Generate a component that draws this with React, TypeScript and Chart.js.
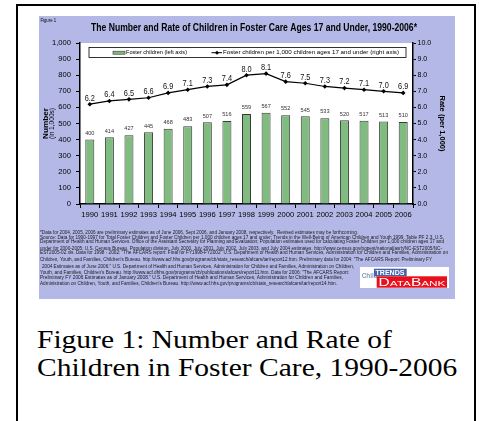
import React, { useEffect, useRef } from "react";
import { Chart, registerables } from "chart.js";

Chart.register(...registerables);

// ---------- data ----------
const YEARS = ["1990", "1991", "1992", "1993", "1994", "1995", "1996", "1997", "1998", "1999", "2000", "2001", "2002", "2003", "2004", "2005", "2006"];
const FOSTER_CHILDREN_THOUSANDS = [400, 414, 427, 445, 468, 483, 507, 516, 559, 567, 552, 545, 533, 520, 517, 513, 510];
const RATE_PER_1000 = [6.2, 6.4, 6.5, 6.6, 6.9, 7.1, 7.3, 7.4, 8.0, 8.1, 7.6, 7.5, 7.3, 7.2, 7.1, 7.0, 6.9];
const LEFT_AXIS_MAX = 1000;
const LEFT_AXIS_STEP = 100;
const RIGHT_AXIS_MAX = 10;
const RIGHT_AXIS_STEP = 1;

const FIGURE_TAG = "Figure 1";
const TITLE = "The Number and Rate of Children in Foster Care Ages 17 and Under, 1990-2006*";
const BAR_LABEL = "Foster children (left axis)";
const LINE_LABEL = "Foster children per 1,000 children ages 17 and under (right axis)";
const LEFT_TITLE = "Number";
const LEFT_SUBTITLE = "(in 1,000s)";
const RIGHT_TITLE = "Rate (per 1,000)";
const CAPTION_LINES = ["Figure 1: Number and Rate of", "Children in Foster Care, 1990-2006"];
const FOOTNOTE_LINES = [
  "*Data for 2004, 2005, 2006 are preliminary estimates as of June 2006, Sept 2006, and January 2008, respectively.  Revised estimates may be forthcoming.",
  "Source: Data for 1990-1997 for Total Foster Children and Foster Children per 1,000 children ages 17 and under: Trends in the Well-Being of American Children and Youth 1999. Table PF 2.3. U.S.",
  "Department of Health and Human Services. Office of the Assistant Secretary for Planning and Evaluation; Population estimates used for calculating Foster Children per 1,000 children ages 17 and",
  "under for 2000-2005: U.S. Census Bureau, Population division, July 2000, July 2001, July 2002, July 2003, and July 2004 estimates. http://www.census.gov/popest/national/asrh/NC-EST2005/NC-",
  "EST2005-02.xls. Data for 1998 - 2002: \"The AFCARS report: Final for FY1998-FY2002\" U.S. Department of Health and Human Services, Administration for Children and Families, Administration on",
  "Children, Youth, and Families, Children's Bureau. http://www.acf.hhs.gov/programs/cb/stats_research/afcars/tar/report12.htm. Preliminary data for 2004: \"The AFCARS Report: Preliminary FY",
  "2004 Estimates as of June 2006.\" U.S. Department of Health and Human Services, Administration for Children and Families, Administration on Children,",
  "Youth, and Families, Children's Bureau. http://www.acf.dhhs.gov/programs/cb/publications/afcars/report11.htm. Data for 2006: \"The AFCARS Report:",
  "Preliminary FY 2006 Estimates as of January 2008.\" U.S. Department of Health and Human Services, Administration for Children and Families,",
  "Administration on Children, Youth, and Families, Children's Bureau. http://www.acf.hhs.gov/programs/cb/stats_research/afcars/tar/report14.htm.",
];

// ---------- layout / style ----------
const SANS = "'Liberation Sans', Arial, Helvetica, sans-serif";
const SERIF = "'Liberation Serif', 'Times New Roman', Times, serif";
const W = 416;
const H = 283;
const BLUE = "#b4b8e6";
const GREEN = "#80bb80";
const FOOT_LAYOUT = [
  { x: 1, y: 217, w: 318 },
  { x: 1, y: 221.3, w: 404 },
  { x: 1, y: 225.6, w: 404 },
  { x: 1, y: 232.4, w: 402 },
  { x: 1, y: 237, w: 408 },
  { x: 1, y: 243.4, w: 392 },
  { x: 3, y: 250.6, w: 312 },
  { x: 1, y: 257, w: 309 },
  { x: 1, y: 262, w: 303 },
  { x: 1, y: 267.6, w: 297 },
];

function fitText(ctx: CanvasRenderingContext2D, text: string, x: number, y: number, width: number, align: CanvasTextAlign = "left") {
  const m = ctx.measureText(text).width || 1;
  ctx.save();
  ctx.translate(x, y);
  ctx.scale(width / m, 1);
  ctx.textAlign = align;
  ctx.fillText(text, 0, 0);
  ctx.restore();
}

function scaledText(ctx: CanvasRenderingContext2D, text: string, x: number, y: number, sx: number) {
  ctx.save();
  ctx.translate(x, y);
  ctx.scale(sx, 1);
  ctx.textAlign = "center";
  ctx.fillText(text, 0, 0);
  ctx.restore();
}

const decorPlugin = {
  id: "decor",
  beforeDraw(chart: any) {
    const { ctx, chartArea: a } = chart;
    ctx.save();
    ctx.fillStyle = BLUE;
    ctx.fillRect(0, 0, W, H);
    ctx.fillStyle = "#ffffff";
    ctx.fillRect(a.left, a.top, a.right - a.left, a.bottom - a.top);
    ctx.restore();
  },
  afterDatasetsDraw(chart: any) {
    const { ctx } = chart;
    ctx.save();
    ctx.textBaseline = "middle";
    const barMeta = chart.getDatasetMeta(1);
    const barData = chart.data.datasets[1].data as number[];
    ctx.fillStyle = "#333";
    ctx.font = `5.6px ${SANS}`;
    barMeta.data.forEach((el: any, i: number) => {
      scaledText(ctx, String(barData[i]), el.x, el.y - 6.3, 1);
    });
    const lineMeta = chart.getDatasetMeta(0);
    const lineData = chart.data.datasets[0].data as number[];
    ctx.fillStyle = "#111";
    ctx.font = `8.4px ${SANS}`;
    lineMeta.data.forEach((el: any, i: number) => {
      scaledText(ctx, lineData[i].toFixed(1), el.x, el.y - 6, 0.88);
    });
    ctx.restore();
  },
  afterDraw(chart: any) {
    const { ctx } = chart;
    ctx.save();
    ctx.fillStyle = "#000";
    ctx.textBaseline = "middle";

    // figure tag + title
    ctx.font = `5px ${SANS}`;
    fitText(ctx, FIGURE_TAG, 1.5, 4.5, 15.5);
    ctx.font = `bold 10px ${SANS}`;
    fitText(ctx, TITLE, 52, 12, 326);

    // axis titles
    ctx.save();
    ctx.translate(6.5, 107.5);
    ctx.rotate(-Math.PI / 2);
    ctx.font = `bold 7.5px ${SANS}`;
    fitText(ctx, LEFT_TITLE, 0, 0, 31, "center");
    ctx.restore();
    ctx.save();
    ctx.translate(13, 107.5);
    ctx.rotate(-Math.PI / 2);
    ctx.font = `6.5px ${SANS}`;
    fitText(ctx, LEFT_SUBTITLE, 0, 0, 31, "center");
    ctx.restore();
    ctx.save();
    ctx.translate(403, 107.5);
    ctx.rotate(Math.PI / 2);
    ctx.font = `bold 7.5px ${SANS}`;
    fitText(ctx, RIGHT_TITLE, 0, 0, 56, "center");
    ctx.restore();

    // legend
    ctx.fillStyle = "#fff";
    ctx.fillRect(50, 31.5, 317, 10);
    ctx.strokeStyle = "#000";
    ctx.lineWidth = 0.8;
    ctx.strokeRect(50, 31.5, 317, 10);
    ctx.fillStyle = GREEN;
    ctx.fillRect(74, 35.2, 12, 3);
    ctx.strokeStyle = "#333";
    ctx.lineWidth = 0.6;
    ctx.strokeRect(74, 35.2, 12, 3);
    ctx.fillStyle = "#000";
    ctx.font = `5.2px ${SANS}`;
    fitText(ctx, chart.data.datasets[1].label, 87, 36.7, 61);
    ctx.strokeStyle = "#000";
    ctx.lineWidth = 1;
    ctx.beginPath();
    ctx.moveTo(172.5, 36.7);
    ctx.lineTo(183, 36.7);
    ctx.stroke();
    ctx.beginPath();
    ctx.moveTo(178, 34.7);
    ctx.lineTo(180, 36.7);
    ctx.lineTo(178, 38.7);
    ctx.lineTo(176, 36.7);
    ctx.closePath();
    ctx.fill();
    fitText(ctx, chart.data.datasets[0].label, 184, 36.7, 176);

    // footnote
    ctx.fillStyle = "#1a1a1a";
    ctx.font = `4.6px ${SANS}`;
    FOOTNOTE_LINES.forEach((t, i) => {
      const l = FOOT_LAYOUT[i];
      fitText(ctx, t, l.x, l.y, l.w);
    });

    // logo
    ctx.fillStyle = "#fff";
    ctx.fillRect(321, 251, 89, 21);
    ctx.textBaseline = "alphabetic";
    ctx.fillStyle = "#8496bb";
    ctx.font = `bold 8px ${SANS}`;
    fitText(ctx, "Child", 322.7, 262, 16);
    ctx.fillStyle = "#4863a8";
    ctx.fillRect(335, 252.7, 32.7, 7.6);
    ctx.fillStyle = "#e8101c";
    ctx.fillRect(337.7, 260.3, 70.3, 11.4);
    ctx.fillStyle = "#fff";
    ctx.font = `bold 7px ${SANS}`;
    fitText(ctx, "TRENDS", 336.5, 259, 29);
    const parts: [string, number][] = [["D", 10.2], ["ATA", 7.8], ["B", 10.2], ["ANK", 7.8]];
    let total = 0;
    parts.forEach(([s, f]) => {
      ctx.font = `${f}px ${SANS}`;
      total += ctx.measureText(s).width;
    });
    const sx = 67 / total;
    let cx = 339.5;
    parts.forEach(([s, f]) => {
      ctx.font = `${f}px ${SANS}`;
      const wpx = ctx.measureText(s).width * sx;
      fitText(ctx, s, cx, 270.3, wpx);
      cx += wpx;
    });
    ctx.restore();
  },
};

export default function App() {
  const ref = useRef<HTMLCanvasElement | null>(null);

  useEffect(() => {
    if (!ref.current) return;
    const chart = new Chart(ref.current, {
      type: "bar",
      data: {
        labels: YEARS,
        datasets: [
          {
            type: "line",
            label: LINE_LABEL,
            data: RATE_PER_1000,
            yAxisID: "y1",
            borderColor: "#000",
            borderWidth: 1.2,
            backgroundColor: "#000",
            pointStyle: "rectRot",
            pointRadius: 2.3,
            pointBackgroundColor: "#000",
            pointBorderColor: "#000",
            pointBorderWidth: 0,
            tension: 0,
            order: 0,
          } as any,
          {
            type: "bar",
            label: BAR_LABEL,
            data: FOSTER_CHILDREN_THOUSANDS,
            yAxisID: "y",
            backgroundColor: GREEN,
            borderColor: "#3a3a3a",
            borderWidth: 1,
            barPercentage: 0.46,
            categoryPercentage: 1,
            order: 1,
          } as any,
        ],
      },
      options: {
        responsive: false,
        animation: false,
        layout: { padding: { top: 27, left: 0, right: 0, bottom: 0 } },
        plugins: {
          legend: { display: false },
          title: { display: false },
          tooltip: { enabled: false },
        },
        scales: {
          x: {
            type: "category",
            offset: true,
            afterFit: (s: any) => {
              s.height = 95;
            },
            grid: {
              display: true,
              drawOnChartArea: false,
              drawTicks: true,
              tickLength: 4,
              color: "#000",
              offset: true,
            },
            border: { display: true, color: "#000", width: 1.5 },
            ticks: {
              color: "#000",
              font: { family: SANS, size: 7.6 },
              padding: 2.5,
              maxRotation: 0,
              autoSkip: false,
            },
          },
          y: {
            type: "linear",
            position: "left",
            min: 0,
            max: LEFT_AXIS_MAX,
            afterFit: (s: any) => {
              s.width = 41;
            },
            grid: {
              display: true,
              drawOnChartArea: false,
              drawTicks: true,
              tickLength: 4,
              color: "#000",
            },
            border: { display: true, color: "#000", width: 1.5 },
            ticks: {
              stepSize: LEFT_AXIS_STEP,
              color: "#000",
              font: { family: SANS, size: 7.6 },
              padding: 5,
              callback: (v: any) => Number(v).toLocaleString("en-US"),
            },
          },
          y1: {
            type: "linear",
            position: "right",
            min: 0,
            max: RIGHT_AXIS_MAX,
            afterFit: (s: any) => {
              s.width = 42;
            },
            grid: {
              display: true,
              drawOnChartArea: false,
              drawTicks: true,
              tickLength: 3,
              color: "#000",
            },
            border: { display: true, color: "#000", width: 1.5 },
            ticks: {
              stepSize: RIGHT_AXIS_STEP,
              color: "#000",
              font: { family: SANS, size: 7 },
              padding: 1.5,
              callback: (v: any) => Number(v).toFixed(1),
            },
          },
        },
      },
      plugins: [decorPlugin as any],
    });
    return () => chart.destroy();
  }, []);

  return (
    <div style={{ position: "absolute", left: 0, top: 0, width: 479, height: 421, overflow: "hidden", background: "#fff" }}>
      <div
        style={{
          position: "absolute",
          left: 16,
          top: 4,
          width: 460,
          height: 440,
          border: "2px solid #000",
          boxSizing: "border-box",
        }}
      />
      <canvas
        ref={ref}
        width={W}
        height={H}
        style={{ position: "absolute", left: 39, top: 16, width: W, height: H }}
      />
      <div
        style={{
          position: "absolute",
          left: 37,
          top: 326,
          fontFamily: SERIF,
          fontSize: 25,
          lineHeight: "28px",
          color: "#000",
          whiteSpace: "nowrap",
          transform: "scaleX(1.18)",
          transformOrigin: "0 0",
        }}
      >
        {CAPTION_LINES[0]}
        <br />
        {CAPTION_LINES[1]}
      </div>
    </div>
  );
}
